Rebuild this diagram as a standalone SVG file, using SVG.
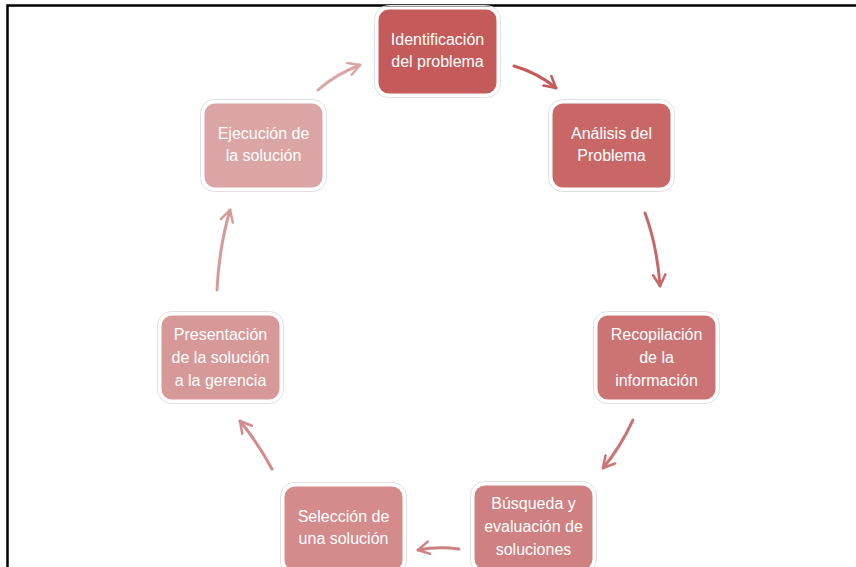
<svg xmlns="http://www.w3.org/2000/svg" width="856" height="567" viewBox="0 0 856 567">
<style>
.box{stroke:#ffffff;stroke-width:3}
.sh{fill:none;stroke:#e0e0e0;stroke-width:1}
.t{font-family:"Liberation Sans",Arial,sans-serif;font-size:16px;fill:#ffffff;text-anchor:middle}
.c{fill:none;stroke-width:3;stroke-linecap:round}
</style>
<defs>
<marker id="m1" viewBox="0 0 12 12" refX="10" refY="6" markerWidth="5" markerHeight="5" orient="auto" markerUnits="strokeWidth"><path d="M1,1 L10,6 L1,11" fill="none" stroke="context-stroke" stroke-width="2" stroke-linecap="round" stroke-linejoin="round"/></marker>
</defs>
<rect width="856" height="567" fill="#ffffff"/>
<path d="M7.5,567 V5.5 H856" fill="none" stroke="#000" stroke-width="2.5"/>
<g id="n1"><rect class="sh" x="374.5" y="5.5" width="126" height="92" rx="14"/><rect class="box" x="377" y="8" width="121" height="87" rx="12" fill="#c55a5a"/><text class="t" x="437.5" y="45">Identificación</text><text class="t" x="437.5" y="67">del problema</text></g>
<g id="n2"><rect class="sh" x="548.5" y="99.5" width="126" height="92" rx="14"/><rect class="box" x="551" y="102" width="121" height="87" rx="12" fill="#c96767"/><text class="t" x="611.5" y="139">Análisis del</text><text class="t" x="611.5" y="161">Problema</text></g>
<g id="n3"><rect class="sh" x="593.5" y="311.5" width="126" height="92" rx="14"/><rect class="box" x="596" y="314" width="121" height="87" rx="12" fill="#cc7474"/><text class="t" x="656.5" y="340">Recopilación</text><text class="t" x="656.5" y="363">de la</text><text class="t" x="656.5" y="386">información</text></g>
<g id="n4"><rect class="sh" x="470.5" y="481.5" width="126" height="92" rx="14"/><rect class="box" x="473" y="484" width="121" height="87" rx="12" fill="#cf8080"/><text class="t" x="533.5" y="509">Búsqueda y</text><text class="t" x="533.5" y="532">evaluación de</text><text class="t" x="533.5" y="555">soluciones</text></g>
<g id="n5"><rect class="sh" x="280.5" y="482.5" width="126" height="92" rx="14"/><rect class="box" x="283" y="485" width="121" height="87" rx="12" fill="#d38b8b"/><text class="t" x="343.5" y="522">Selección de</text><text class="t" x="343.5" y="544">una solución</text></g>
<g id="n6"><rect class="sh" x="157.5" y="311.5" width="126" height="92" rx="14"/><rect class="box" x="160" y="314" width="121" height="87" rx="12" fill="#d79898"/><text class="t" x="220.5" y="340">Presentación</text><text class="t" x="220.5" y="363">de la solución</text><text class="t" x="220.5" y="386">a la gerencia</text></g>
<g id="n7"><rect class="sh" x="200.5" y="99.5" width="126" height="92" rx="14"/><rect class="box" x="203" y="102" width="121" height="87" rx="12" fill="#dba5a5"/><text class="t" x="263.5" y="139">Ejecución de</text><text class="t" x="263.5" y="161">la solución</text></g>
<g id="connectors">
<path class="c" d="M514,66 Q538,73 556,88" stroke="#c55a5a" marker-end="url(#m1)"/>
<path class="c" d="M645,213 Q657,245 660,286" stroke="#c96767" marker-end="url(#m1)"/>
<path class="c" d="M633,420 Q620,448 603,468" stroke="#cc7474" marker-end="url(#m1)"/>
<path class="c" d="M459,549 Q438,546 418,550" stroke="#cf8080" marker-end="url(#m1)"/>
<path class="c" d="M272,469 Q258,443 240,421" stroke="#d38b8b" marker-end="url(#m1)"/>
<path class="c" d="M217,290 Q219,248 230,210" stroke="#d79898" marker-end="url(#m1)"/>
<path class="c" d="M318,90 Q336,74 360,65" stroke="#dba5a5" marker-end="url(#m1)"/>
</g>
</svg>
